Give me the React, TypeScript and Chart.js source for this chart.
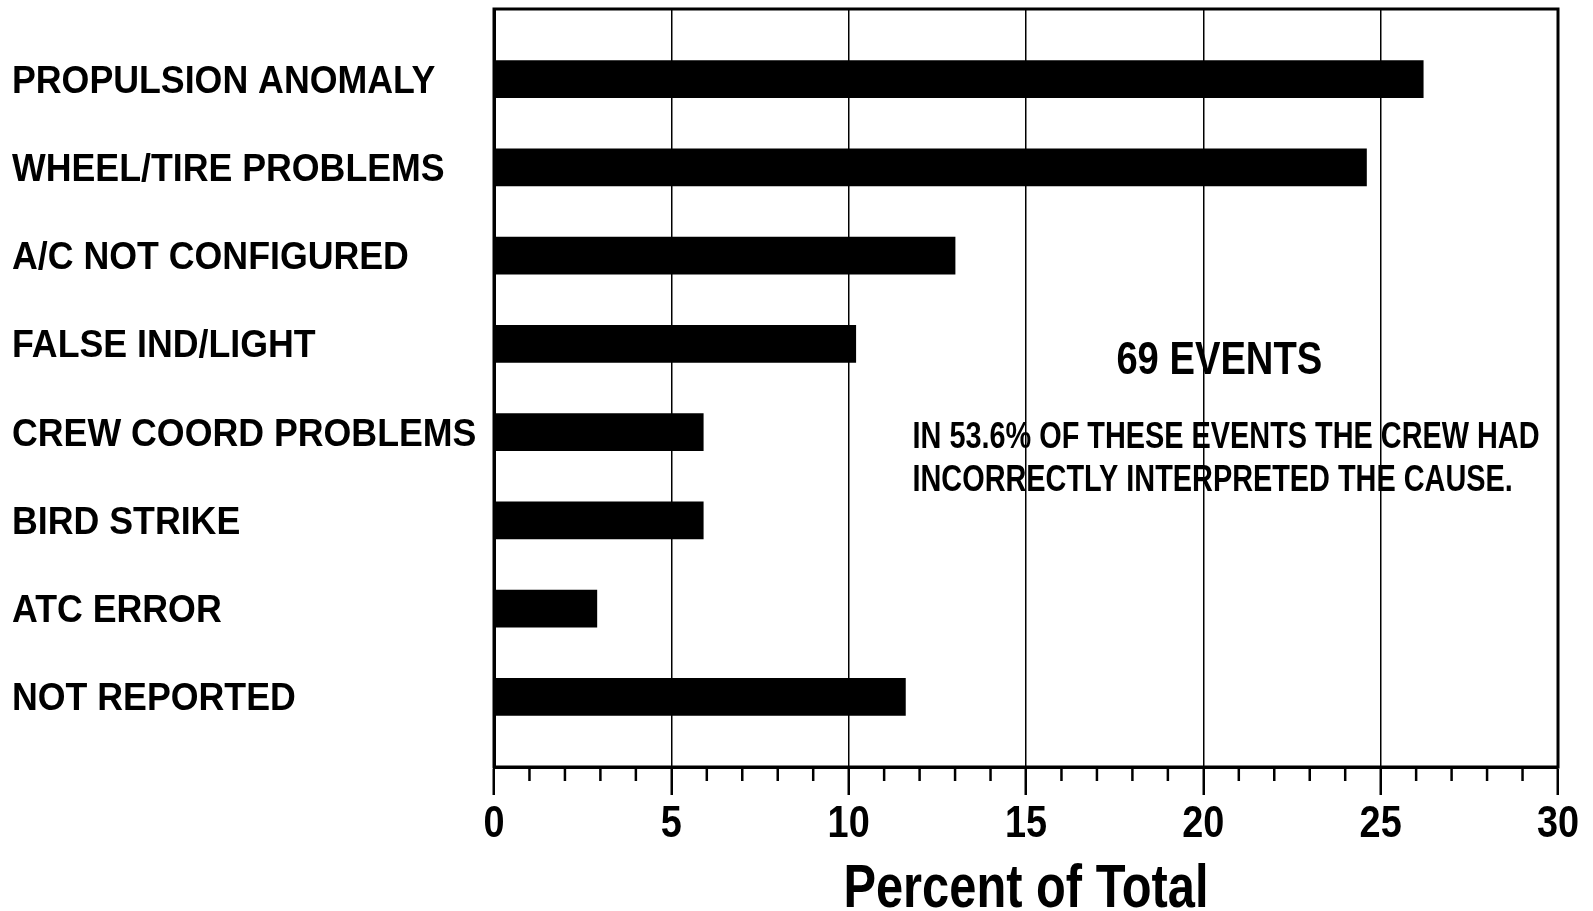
import React, { useEffect, useRef } from "react";
import { Chart, registerables } from "chart.js";

Chart.register(...registerables);

const categories = [
  "PROPULSION ANOMALY",
  "WHEEL/TIRE PROBLEMS",
  "A/C NOT CONFIGURED",
  "FALSE IND/LIGHT",
  "CREW COORD PROBLEMS",
  "BIRD STRIKE",
  "ATC ERROR",
  "NOT REPORTED",
];
const percentValues = [26.2, 24.6, 13.0, 10.2, 5.9, 5.9, 2.9, 11.6];
const xMin = 0;
const xMax = 30;
const xMajorStep = 5;
const xMinorStep = 1;
const xTickLabels = ["0", "5", "10", "15", "20", "25", "30"];
const axisTitle = "Percent of Total";
const noteTitle = "69 EVENTS";
const noteLines = [
  "IN 53.6% OF THESE EVENTS THE CREW HAD",
  "INCORRECTLY INTERPRETED THE CAUSE.",
];

const FONT = '"Liberation Sans", Arial, sans-serif';

function drawCondensed(
  ctx: CanvasRenderingContext2D,
  text: string,
  x: number,
  y: number,
  size: number,
  sx: number,
  align: CanvasTextAlign
) {
  ctx.save();
  ctx.font = `bold ${size}px ${FONT}`;
  ctx.textAlign = align;
  ctx.textBaseline = "middle";
  ctx.fillStyle = "#000";
  ctx.translate(x, y);
  ctx.scale(sx, 1);
  ctx.fillText(text, 0, 0);
  ctx.restore();
}

const framePlugin = {
  id: "frameAndNotes",
  afterDatasetsDraw(chart: any) {
    const { ctx, chartArea: a, scales } = chart;
    const x = scales.x;
    const y = scales.y;
    ctx.save();
    ctx.strokeStyle = "#000";
    ctx.lineWidth = 3;
    ctx.strokeRect(a.left, a.top, a.right - a.left, a.bottom - a.top);
    // minor tick marks
    ctx.lineWidth = 2.5;
    for (let v = xMin; v <= xMax; v += xMinorStep) {
      if (v % xMajorStep === 0) continue;
      const px = x.getPixelForValue(v);
      ctx.beginPath();
      ctx.moveTo(px, a.bottom);
      ctx.lineTo(px, a.bottom + 14);
      ctx.stroke();
    }
    ctx.restore();

    // category labels
    categories.forEach((c, i) => {
      drawCondensed(ctx, c, a.left - 482, y.getPixelForValue(i) + 3, 38, 0.94, "left");
    });
    // x tick labels
    xTickLabels.forEach((t) => {
      drawCondensed(ctx, t, x.getPixelForValue(Number(t)), a.bottom + 58, 44, 0.86, "center");
    });
    // axis title
    drawCondensed(ctx, axisTitle, (a.left + a.right) / 2, x.bottom - 21, 61, 0.8, "center");
    // notes
    drawCondensed(ctx, noteTitle, x.getPixelForValue(20.45), y.getPixelForValue(3.2), 46, 0.83, "center");
    const noteY = [4.067, 4.554];
    noteLines.forEach((t, i) => {
      drawCondensed(ctx, t, x.getPixelForValue(11.8), y.getPixelForValue(noteY[i]), 37, 0.78, "left");
    });
  },
};

export default function App() {
  const canvasRef = useRef<HTMLCanvasElement | null>(null);

  useEffect(() => {
    const canvas = canvasRef.current;
    if (!canvas) return;
    const chart = new Chart(canvas, {
      type: "bar",
      data: {
        datasets: [
          {
            data: percentValues.map((v, i) => ({ x: v, y: i })),
            backgroundColor: "#000",
            borderWidth: 0,
            barThickness: 37,
          } as any,
        ],
      },
      options: {
        indexAxis: "y",
        responsive: false,
        animation: false,
        devicePixelRatio: 1,
        layout: { padding: { left: 12, right: 35, top: 9, bottom: 0 } },
        plugins: {
          legend: { display: false },
          tooltip: { enabled: false },
        },
        scales: {
          x: {
            type: "linear",
            position: "bottom",
            min: xMin,
            max: xMax,
            offset: false,
            ticks: {
              stepSize: xMajorStep,
              display: false,
            },
            grid: {
              color: "#000",
              lineWidth: 1.5,
              drawTicks: true,
              tickLength: 28,
              tickWidth: 2.5,
              tickColor: "#000",
            },
            border: { display: true, color: "#000", width: 3 },
            afterFit: (s: any) => {
              s.height = 144;
            },
          },
          y: {
            type: "linear",
            reverse: true,
            offset: false,
            min: -0.795,
            max: 7.795,
            afterBuildTicks: (s: any) => {
              s.ticks = categories.map((_, i) => ({ value: i }));
            },
            ticks: { display: false },
            grid: { display: false, drawTicks: false },
            border: { display: true, color: "#000", width: 3 },
            afterFit: (s: any) => {
              s.width = 482;
            },
          },
        },
      } as any,
      plugins: [framePlugin],
    });
    return () => chart.destroy();
  }, []);

  return (
    <div style={{ position: "fixed", left: 0, top: 0, width: 1593, height: 911, background: "#fff" }}>
      <canvas ref={canvasRef} width={1593} height={911} />
    </div>
  );
}
